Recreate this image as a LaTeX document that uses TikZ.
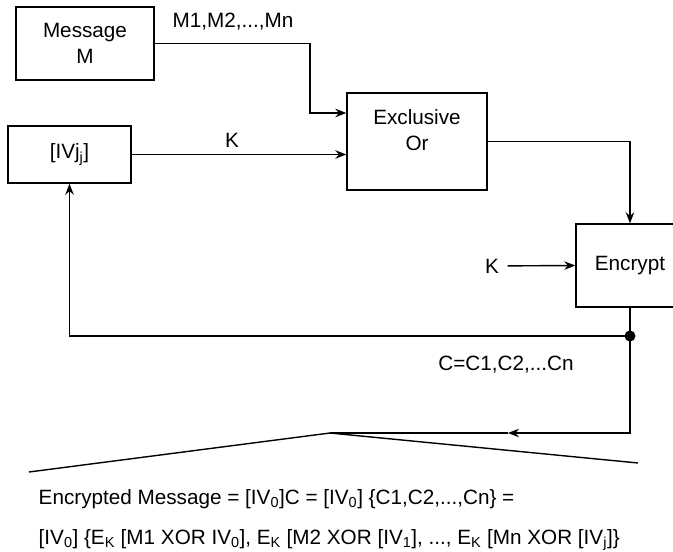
\documentclass[tikz,border=0pt]{standalone}
\usepackage{fontspec}
\setmainfont{Liberation Sans}
\usetikzlibrary{arrows.meta,positioning}

\tikzset{
  box/.style={draw, line width=1.4pt, align=center, inner sep=0pt},
  lbl/.style={inner sep=0pt, anchor=base},
}

\begin{document}
\begin{tikzpicture}[x=1pt, y=-1pt, font=\fontsize{20.7}{25.5}\selectfont, line width=1.4pt, >={Stealth[length=11pt,width=8.5pt]}]
  \useasboundingbox (0,0) rectangle (673,552);
  % boxes
  \node[box, minimum width=138pt, minimum height=73pt] (msg) at (85,43.5) {Message\\M};
  \node[box, minimum width=123pt, minimum height=57pt] (iv) at (69.5,154.5) {[IVj\textsubscript{j}]};
  \node[box, minimum width=140pt, minimum height=97pt] (xor) at (417,141.5) {};
  \node[align=center, inner sep=0pt] (xortxt) at (417,130) {Exclusive\\Or};
  \node[box, minimum width=108pt, minimum height=83pt] (enc) at (630,265.5) {Encrypt};
  % labels
  \node[lbl] (mlist) at (233,27) {M1,M2,...,Mn};
  \node[lbl] (k1) at (232,147) {K};
  \node[lbl] (k2) at (492,273) {K};
  \node[lbl] (clist) at (506,370) {C=C1,C2,...Cn};
  % corners
  \coordinate (bend1) at (310,43.5);
  \coordinate (bend2) at (310,113);
  \coordinate (bend3) at (630,141.5);
  \coordinate (tap) at (630,336);
  \coordinate (bend4) at (69.5,336);
  \coordinate (bend5) at (630,433);
  \coordinate (mid) at (508,433);
  \coordinate (apex) at (330,433);
  \coordinate (lend) at (29,472);
  \coordinate (rend) at (638,463);
  % connectors
  \draw[->] (msg.east) -- (bend1) -- (bend2) -- (xor.west |- bend2);
  \draw[->] (iv.east) -- (xor.west |- iv.east);
  \draw[->] (xor.east) -- (bend3) -- (enc.north);
  \draw[->] ([xshift=8pt]k2.east) -- (enc.west);
  \draw (enc.south) -- (tap);
  \draw[->] (tap) -- (bend4) -- (iv.south);
  \draw[->] (tap) -- (bend5) -- (mid);
  \draw (mid) -- (apex);
  \draw (lend) -- (apex) -- (rend);
  \fill (tap) circle (5.5pt);
  % result
  \node[lbl, anchor=base west] (eq1) at (38,504) {Encrypted Message = [IV\textsubscript{0}]C = [IV\textsubscript{0}] \{C1,C2,...,Cn\} =};
  \node[lbl, anchor=base west] (eq2) at (38,544) {[IV\textsubscript{0}] \{E\textsubscript{K} [M1 XOR IV\textsubscript{0}], E\textsubscript{K} [M2 XOR [IV\textsubscript{1}], ..., E\textsubscript{K} [Mn XOR [IV\textsubscript{j}]\}};
\end{tikzpicture}
\end{document}
